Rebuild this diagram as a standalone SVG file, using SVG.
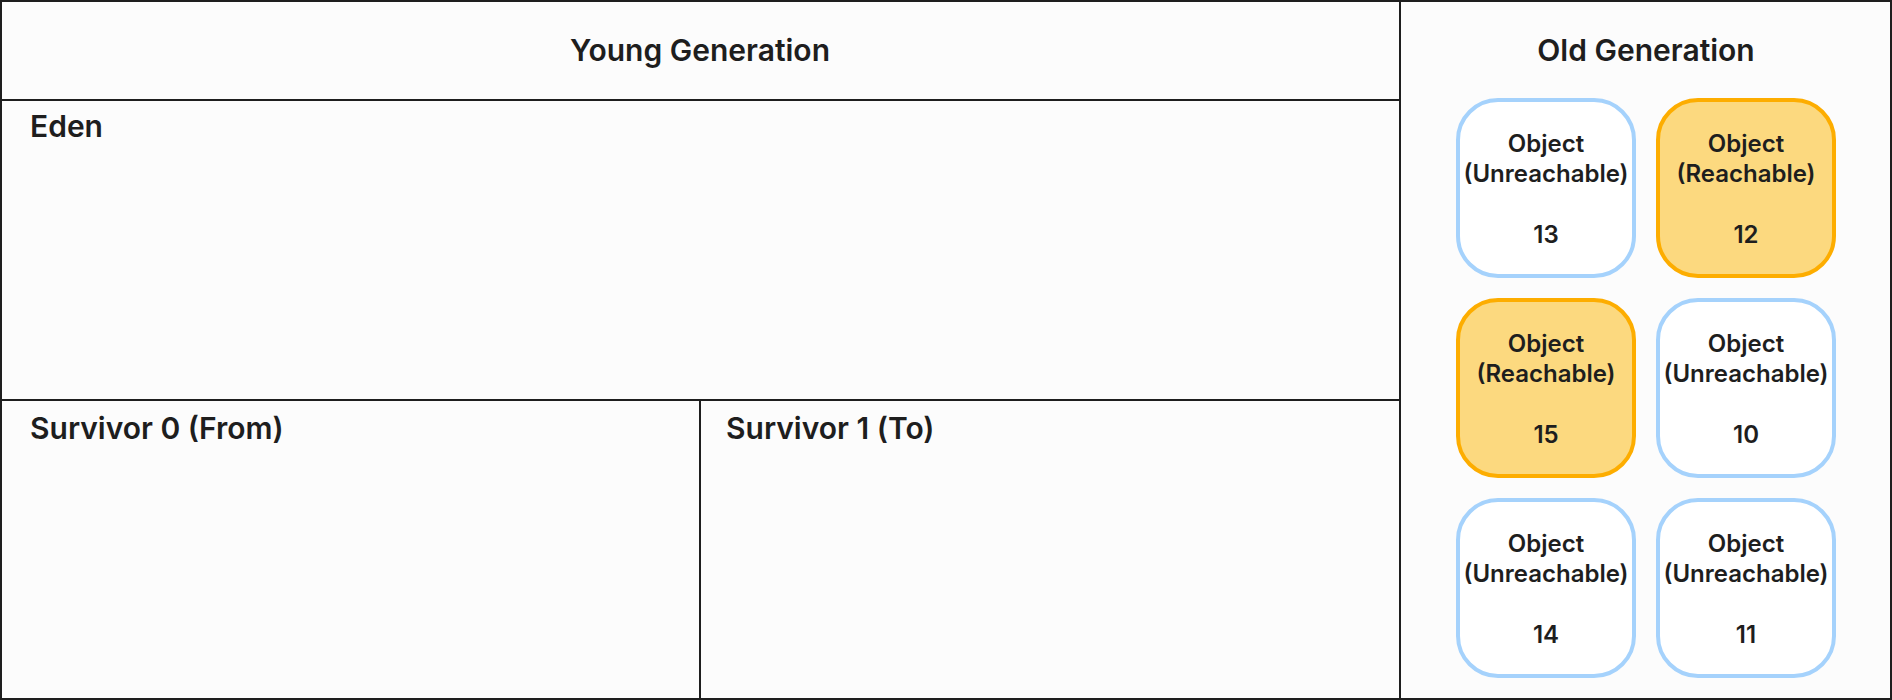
<svg xmlns="http://www.w3.org/2000/svg" width="1892" height="700" viewBox="0 0 1892 700">
<style>
.frame{fill:none;stroke:#1e1e1e;stroke-width:2}
.title{font-family:Inter,"Noto Sans",sans-serif;font-size:30px;font-weight:600;fill:#1e1e1e}
.lbl{font-family:Inter,"Noto Sans",sans-serif;font-size:24px;font-weight:600;fill:#1e1e1e;text-anchor:middle}
.un{fill:#ffffff;stroke:#a5d2fc;stroke-width:4}
.re{fill:#fcd97f;stroke:#fdad00;stroke-width:4}
</style>
<rect x="0" y="0" width="1892" height="700" fill="#fcfcfc"/>
<g id="young-generation">
<rect class="frame" x="1" y="1" width="1399" height="698"/>
<line class="frame" x1="0" y1="100" x2="1400" y2="100"/>
<text class="title" x="700" y="61" text-anchor="middle">Young Generation</text>
</g>
<g id="eden">
<line class="frame" x1="0" y1="400" x2="1400" y2="400"/>
<text class="title" x="30" y="137">Eden</text>
</g>
<g id="survivor-0">
<text class="title" x="30" y="439">Survivor 0 (From)</text>
</g>
<g id="survivor-1">
<line class="frame" x1="700" y1="400" x2="700" y2="700"/>
<text class="title" x="726" y="439">Survivor 1 (To)</text>
</g>
<g id="old-generation">
<rect class="frame" x="1400" y="1" width="491" height="698"/>
<text class="title" x="1646" y="61" text-anchor="middle">Old Generation</text>
</g>
<g id="obj-13">
<rect class="un" x="1458" y="100" width="176" height="176" rx="40"/>
<text class="lbl" x="1546" y="152">Object</text>
<text class="lbl" x="1546" y="182">(Unreachable)</text>
<text class="lbl" x="1546" y="243">13</text>
</g>
<g id="obj-12">
<rect class="re" x="1658" y="100" width="176" height="176" rx="40"/>
<text class="lbl" x="1746" y="152">Object</text>
<text class="lbl" x="1746" y="182">(Reachable)</text>
<text class="lbl" x="1746" y="243">12</text>
</g>
<g id="obj-15">
<rect class="re" x="1458" y="300" width="176" height="176" rx="40"/>
<text class="lbl" x="1546" y="352">Object</text>
<text class="lbl" x="1546" y="382">(Reachable)</text>
<text class="lbl" x="1546" y="443">15</text>
</g>
<g id="obj-10">
<rect class="un" x="1658" y="300" width="176" height="176" rx="40"/>
<text class="lbl" x="1746" y="352">Object</text>
<text class="lbl" x="1746" y="382">(Unreachable)</text>
<text class="lbl" x="1746" y="443">10</text>
</g>
<g id="obj-14">
<rect class="un" x="1458" y="500" width="176" height="176" rx="40"/>
<text class="lbl" x="1546" y="552">Object</text>
<text class="lbl" x="1546" y="582">(Unreachable)</text>
<text class="lbl" x="1546" y="643">14</text>
</g>
<g id="obj-11">
<rect class="un" x="1658" y="500" width="176" height="176" rx="40"/>
<text class="lbl" x="1746" y="552">Object</text>
<text class="lbl" x="1746" y="582">(Unreachable)</text>
<text class="lbl" x="1746" y="643">11</text>
</g>
<g id="connectors"></g>
</svg>
